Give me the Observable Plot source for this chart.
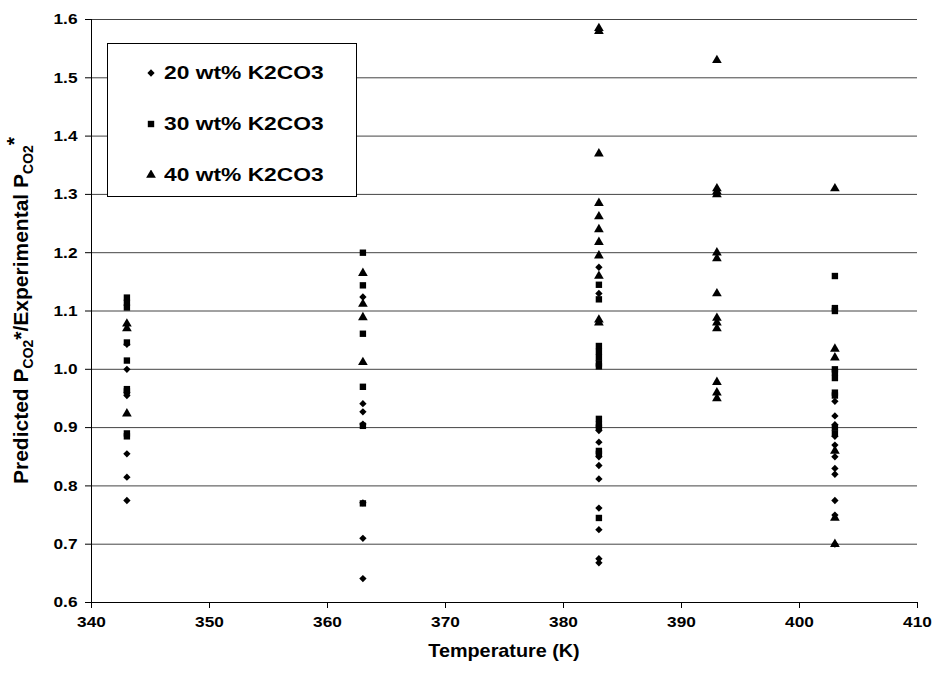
<!DOCTYPE html>
<html><head><meta charset="utf-8">
<script src="https://cdn.jsdelivr.net/npm/d3@7"></script>
<script src="https://cdn.jsdelivr.net/npm/@observablehq/plot@0.6"></script>
<style>
body{margin:0;background:#fff;font-family:Arial,"Liberation Sans",sans-serif;}
#wrap{position:relative;width:938px;height:675px;}
#legend{position:absolute;left:107px;top:43px;width:250px;height:154px;border:1px solid #000;background:#fff;box-sizing:border-box;}
.li{position:absolute;left:38px;font-weight:bold;font-size:19px;line-height:22px;display:flex;align-items:center;}
.li svg{margin-right:8px;}
.li span{display:inline-block;transform:scaleX(1.2);transform-origin:left center;}
</style></head><body>
<div id="wrap"><div id="chart"></div>
<div id="legend"></div></div>
<script>
const temps = [343, 363, 383, 393, 403];
const seriesNames = ["20 wt% K2CO3", "30 wt% K2CO3", "40 wt% K2CO3"];
// values per temperature (same order as temps)
const wt20 = [
  [1.043, 1.0, 0.96, 0.955, 0.855, 0.815, 0.775],
  [1.124, 0.941, 0.927, 0.906, 0.771, 0.71, 0.641],
  [1.175, 1.13, 0.895, 0.875, 0.85, 0.835, 0.812, 0.762, 0.725, 0.675, 0.668],
  [],
  [0.945, 0.92, 0.905, 0.885, 0.87, 0.85, 0.83, 0.82, 0.775, 0.75, 0.70]
];
const wt30 = [
  [1.123, 1.114, 1.106, 1.046, 1.015, 0.966, 0.962, 0.89, 0.885],
  [1.20, 1.144, 1.061, 0.97, 0.903, 0.77],
  [1.145, 1.12, 1.04, 1.03, 1.02, 1.01, 1.005, 0.915, 0.905, 0.9, 0.86, 0.855, 0.745],
  [],
  [1.16, 1.105, 1.10, 1.0, 0.995, 0.985, 0.96, 0.955, 0.9, 0.89]
];
const wt40 = [
  [1.078, 1.070, 0.924],
  [1.165, 1.112, 1.089, 1.012],
  [1.585, 1.58, 1.37, 1.285, 1.262, 1.24, 1.218, 1.195, 1.16, 1.085, 1.08],
  [1.53, 1.31, 1.305, 1.30, 1.20, 1.19, 1.13, 1.088, 1.08, 1.07, 0.978, 0.96, 0.95],
  [1.31, 1.035, 1.02, 0.86, 0.745, 0.70]
];
const xTicks = [340, 350, 360, 370, 380, 390, 400, 410];
const yTicks = [0.6, 0.7, 0.8, 0.9, 1.0, 1.1, 1.2, 1.3, 1.4, 1.5, 1.6];

const flat = arr => arr.flatMap((vals, i) => vals.map(v => ({T: temps[i], v})));
const d20 = flat(wt20), d30 = flat(wt30), d40 = flat(wt40);

const plot = Plot.plot({
  width: 938, height: 675,
  marginLeft: 91, marginRight: 21, marginTop: 19, marginBottom: 73,
  style: {fontFamily: "Arial, 'Liberation Sans', sans-serif", fontSize: "15px", fontWeight: "bold", color: "#000", background: "#fff"},
  x: {domain: [340, 410], ticks: xTicks, tickFormat: d3.format("d"), label: null},
  y: {domain: [0.6, 1.6], ticks: yTicks, tickFormat: d3.format(".1f"), label: null},
  marks: [
    Plot.ruleY(yTicks.slice(1), {stroke: "#444", strokeWidth: 1}),
    Plot.axisX({ticks: xTicks, tickFormat: d3.format("d"), tickSize: 6, tickPadding: 8, stroke: "#000", fontSize: 15, fontWeight: "bold"}),
    Plot.axisY({ticks: yTicks, tickFormat: d3.format(".1f"), tickSize: 6, tickPadding: 8, stroke: "#000", fontSize: 15, fontWeight: "bold"}),
    Plot.ruleX([340], {stroke: "#000"}),
    Plot.ruleY([0.6], {stroke: "#000"}),
    Plot.dot(d20, {x: "T", y: "v", symbol: "diamond2", r: 3.3, fill: "#000", stroke: "none"}),
    Plot.dot(d30, {x: "T", y: "v", symbol: "square", r: 3.6, fill: "#000", stroke: "none"}),
    Plot.dot(d40, {x: "T", y: "v", symbol: "triangle", r: 3.6, fill: "#000", stroke: "none"})
  ]
});
document.getElementById("chart").appendChild(plot);

const svg = d3.select(plot);
// widen tick labels slightly (horizontal stretch of the original)
svg.selectAll("g[aria-label$='tick label'] text").each(function() {
  const tr = this.getAttribute("transform");
  if (tr) this.setAttribute("transform", tr + " scale(1.15,1)");
});
// y label with subscripts
const yl = svg.append("text")
  .attr("transform", `translate(28, ${(19 + 602) / 2}) rotate(-90)`)
  .attr("text-anchor", "middle")
  .attr("font-size", 21).attr("font-weight", "bold").attr("fill", "#000");
yl.append("tspan").text("Predicted P");
yl.append("tspan").attr("font-size", 14).attr("dy", 5).text("CO2");
yl.append("tspan").attr("dy", -5).text("*/Experimental P");
yl.append("tspan").attr("font-size", 14).attr("dy", 5).text("CO2");
yl.append("tspan").attr("dy", -12).text("*");
svg.append("text")
  .attr("transform", `translate(${(91 + 917) / 2}, 657) scale(1.1,1)`)
  .attr("text-anchor", "middle")
  .attr("font-size", 18).attr("font-weight", "bold").attr("fill", "#000")
  .text("Temperature (K)");

// legend
const symbols = [d3.symbolDiamond2, d3.symbolSquare, d3.symbolTriangle];
const sizes = [34, 41, 41];
const lg = document.getElementById("legend");
seriesNames.forEach((name, i) => {
  const div = document.createElement("div");
  div.className = "li";
  div.style.top = (18 + i * 51) + "px";
  const s = d3.create("svg").attr("width", 10).attr("height", 10);
  s.append("path").attr("transform", "translate(5,5)").attr("d", d3.symbol(symbols[i], sizes[i])()).attr("fill", "#000");
  div.appendChild(s.node());
  const t = document.createElement("span");
  t.textContent = name;
  div.appendChild(t);
  lg.appendChild(div);
});
</script></body></html>
